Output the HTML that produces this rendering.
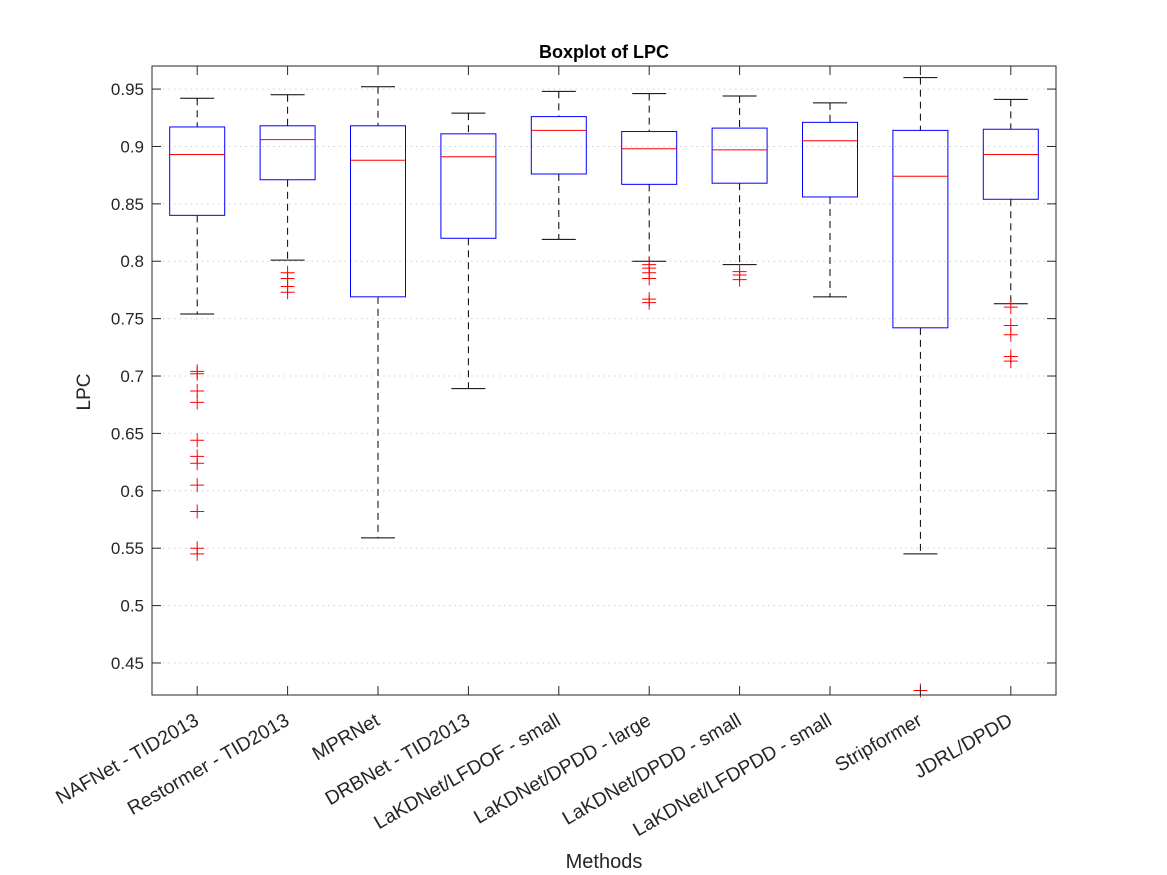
<!DOCTYPE html>
<html><head><meta charset="utf-8">
<style>
body{margin:0;background:#fff;}
svg{display:block;font-family:"Liberation Sans",Arial,sans-serif;}
</style></head>
<body>
<svg id="chart" width="1167" height="875">
  <rect x="0" y="0" width="1167" height="875" fill="#fff"/>
  <g id="grid"></g>
  <g id="marks"></g>
  <rect x="152" y="66" width="904" height="629" fill="none" stroke="#262626" stroke-width="1"/>
  <g id="axes"></g>
  <text x="604" y="58" text-anchor="middle" font-size="18" font-weight="bold" fill="#000">Boxplot of LPC</text>
  <text x="0" y="0" transform="translate(90,392) rotate(-90)" text-anchor="middle" font-size="19" fill="#262626">LPC</text>
  <text x="604" y="868" text-anchor="middle" font-size="20" fill="#262626">Methods</text>
</svg>
<script>
const categories = ["NAFNet - TID2013","Restormer - TID2013","MPRNet","DRBNet - TID2013","LaKDNet/LFDOF - small","LaKDNet/DPDD - large","LaKDNet/DPDD - small","LaKDNet/LFDPDD - small","Stripformer","JDRL/DPDD"];
const upperWhisker = [0.942,0.945,0.952,0.929,0.948,0.946,0.944,0.938,0.960,0.941];
const q3Values     = [0.917,0.918,0.918,0.911,0.926,0.913,0.916,0.921,0.914,0.915];
const medianValues = [0.893,0.906,0.888,0.891,0.914,0.898,0.897,0.905,0.874,0.893];
const q1Values     = [0.840,0.871,0.769,0.820,0.876,0.867,0.868,0.856,0.742,0.854];
const lowerWhisker = [0.754,0.801,0.559,0.689,0.819,0.800,0.797,0.769,0.545,0.763];
const outliers = [
  [0.704,0.702,0.687,0.677,0.644,0.630,0.624,0.605,0.582,0.550,0.545],
  [0.790,0.785,0.778,0.773],
  [],
  [],
  [],
  [0.797,0.794,0.790,0.785,0.767,0.764],
  [0.791,0.788,0.784],
  [],
  [0.426],
  [0.760,0.744,0.736,0.717,0.713]
];
const yTicks = [0.45,0.5,0.55,0.6,0.65,0.7,0.75,0.8,0.85,0.9,0.95];
const yTickLabels = ["0.45","0.5","0.55","0.6","0.65","0.7","0.75","0.8","0.85","0.9","0.95"];

const L=152,R=1056,T=66,B=695;
const yMin=0.4221,yMax=0.9701;
const ys=v=>B-(v-yMin)/(yMax-yMin)*(B-T);
const xs=i=>L+(i+0.5)*(R-L)/categories.length;
const NS="http://www.w3.org/2000/svg";
function mk(tag,attrs,parent){const e=document.createElementNS(NS,tag);for(const k in attrs)e.setAttribute(k,attrs[k]);parent.appendChild(e);return e;}
const grid=document.getElementById('grid'),marks=document.getElementById('marks'),axes=document.getElementById('axes');

yTicks.forEach((v,i)=>{
  const y=ys(v);
  const g=mk('line',{x1:L,x2:R,y1:y,y2:y,stroke:'#d0d0d0','stroke-width':1,'stroke-dasharray':'1.5 4'},grid);
  
  
  mk('line',{x1:L,x2:L+9,y1:y,y2:y,stroke:'#262626'},axes);
  mk('line',{x1:R,x2:R-9,y1:y,y2:y,stroke:'#262626'},axes);
  const t=mk('text',{x:L-8,y:y+6,'text-anchor':'end','font-size':17,fill:'#262626'},axes);
  t.textContent=yTickLabels[i];
  
  
});

const hb=27.5,hc=17;
categories.forEach((c,i)=>{
  const x=xs(i);
  mk('line',{x1:x,x2:x,y1:B,y2:B-9,stroke:'#262626'},axes);
  mk('line',{x1:x,x2:x,y1:T,y2:T+9,stroke:'#262626'},axes);
  const t=mk('text',{x:0,y:0,transform:`translate(${x+3},${B+29}) rotate(-30)`,'text-anchor':'end','font-size':19.5,fill:'#262626'},axes);
  t.textContent=c;
  
  
  const g=mk('g',{},marks);
  
  
  mk('line',{x1:x,x2:x,y1:ys(upperWhisker[i]),y2:ys(q3Values[i]),stroke:'#000','stroke-dasharray':'7 5'},g);
  mk('line',{x1:x,x2:x,y1:ys(q1Values[i]),y2:ys(lowerWhisker[i]),stroke:'#000','stroke-dasharray':'7 5'},g);
  mk('line',{x1:x-hc,x2:x+hc,y1:ys(upperWhisker[i]),y2:ys(upperWhisker[i]),stroke:'#000'},g);
  mk('line',{x1:x-hc,x2:x+hc,y1:ys(lowerWhisker[i]),y2:ys(lowerWhisker[i]),stroke:'#000'},g);
  mk('rect',{x:x-hb,y:ys(q3Values[i]),width:2*hb,height:ys(q1Values[i])-ys(q3Values[i]),fill:'none',stroke:'#0000ff'},g);
  mk('line',{x1:x-hb,x2:x+hb,y1:ys(medianValues[i]),y2:ys(medianValues[i]),stroke:'#ff0000'},g);
  outliers[i].forEach(v=>{
    const y=ys(v);
    const p=mk('path',{d:`M${x-7},${y}H${x+7}M${x},${y-7}V${y+7}`,stroke:'#ff0000','stroke-width':1},g);
    
    
  });
});
</script>
</body></html>
